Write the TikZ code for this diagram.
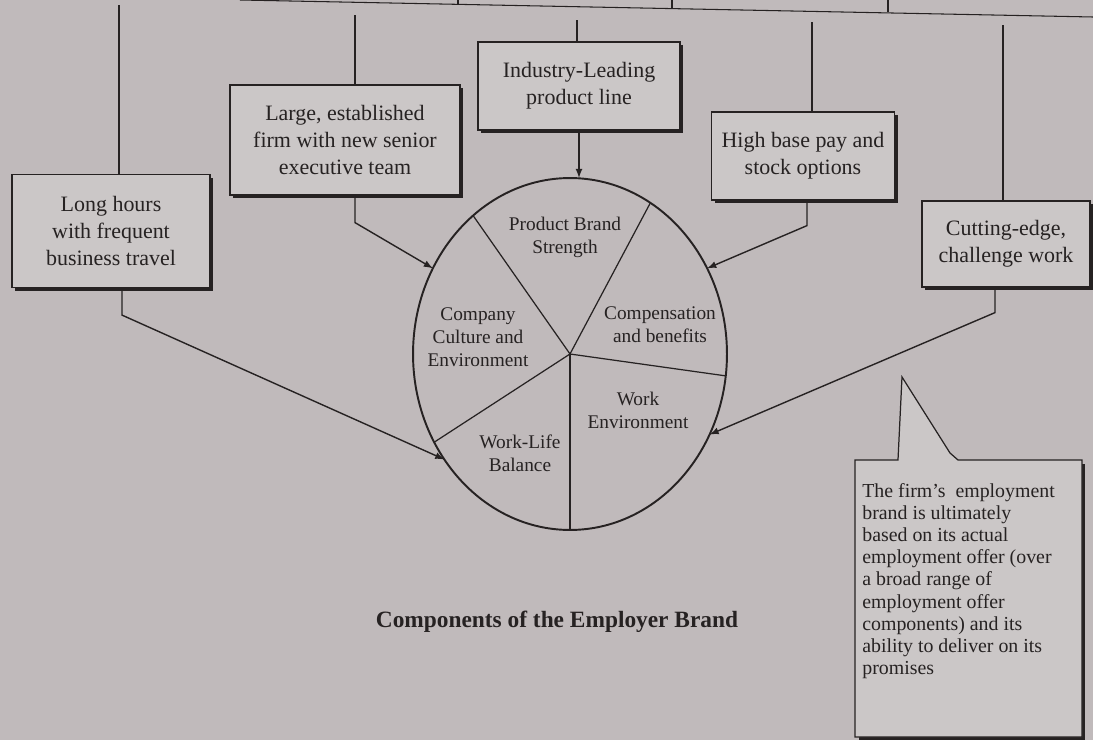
\documentclass[tikz,border=0pt]{standalone}
\usepackage{fontspec}
\setmainfont{Liberation Serif}
\usetikzlibrary{shapes.geometric,shadows}
\definecolor{paper}{RGB}{192,186,187}
\definecolor{boxfill}{RGB}{203,199,199}
\definecolor{ink}{RGB}{38,34,34}
\newcommand{\feed}[4]{%
  \draw[feedline] ([xshift=#2]#1.south) -- ++(0,#3) -- (pie.#4);
}

\begin{document}
\begin{tikzpicture}[x=0.02cm,y=-0.02cm,
  card/.style={draw=ink,line width=0.7pt,fill=boxfill,align=center,inner sep=2pt,
    font=\fontsize{12.5}{15.5}\selectfont,text=ink,
    drop shadow={shadow xshift=1.8pt,shadow yshift=-1.8pt,fill=ink,opacity=1}},
  feedline/.style={draw=ink,line width=0.8pt,-latex},
  spoke/.style={draw=ink,line width=0.7pt},
  slice/.style={align=center,text=ink,font=\fontsize{11}{13}\selectfont},
  rule/.style={draw=ink,line width=0.6pt}]

  % Fixed frame, same proportions as the page photo.
  \useasboundingbox (0,0) rectangle (1093,740);
  \fill[paper] (0,0) rectangle (1093,740);

  % ---------------- Remnant of the chart above ----------------
  \draw[rule] (240,0) -- (1093,17);
  \foreach \x/\y in {458/4,672/8,888/12}
    \draw[rule] (\x,0) -- (\x,\y);

  % ---------------- Feature boxes ----------------
  \node[card,minimum width=3.96cm,minimum height=2.26cm] (longhours) at (111,231)
    {Long hours\\with frequent\\business travel};
  \node[card,minimum width=4.6cm,minimum height=2.2cm] (large) at (345,140)
    {Large, established\\firm with new senior\\executive team};
  \node[card,minimum width=4.04cm,minimum height=1.76cm] (industry) at (579,86)
    {Industry-Leading\\product line};
  \node[card,minimum width=3.66cm,minimum height=1.76cm] (highbase) at (803,156)
    {High base pay and\\stock options};
  \node[card,minimum width=3.36cm,minimum height=1.72cm] (cutting) at (1006,244)
    {Cutting-edge,\\challenge work};

  % lines coming down from the chart above
  \foreach \n/\dx/\y in {longhours/0.16cm/5,large/0.2cm/15,industry/-0.04cm/20,
                         highbase/0.18cm/22,cutting/-0.06cm/25}
    \draw[rule] ([xshift=\dx]\n.north) -- ([xshift=\dx]\n.north |- 0,\y);

  % ---------------- Brand pie ----------------
  \node[ellipse,draw=ink,line width=1.1pt,minimum width=6.28cm,minimum height=7.04cm,
    inner sep=0pt,outer sep=0pt] (pie) at (570,354) {};
  \foreach \a in {125,62,352,270,213}
    \draw[spoke] (pie.center) -- (pie.\a);

  \node[slice] (brand)   at (565,237) {Product Brand\\Strength};
  \node[slice] (culture) at (478,337) {Company\\Culture and\\Environment};
  \node[slice] (comp)    at (660,325) {Compensation\\and benefits};
  \node[slice] (workenv) at (638,410) {Work\\Environment};
  \node[slice] (balance) at (520,453) {Work-Life\\Balance};

  % ---------------- Arrows into the pie ----------------
  \feed{longhours}{0.22cm}{27}{220}
  \feed{large}{0.2cm}{27}{148}
  \feed{highbase}{0.08cm}{25}{32}
  \feed{cutting}{-0.22cm}{25}{330}
  \draw[feedline] (industry.south) -- (industry.south |- pie.north);

  % ---------------- Callout ----------------
  \fill[ink] (859,464) rectangle (1085,740);
  \draw[draw=ink,line width=0.7pt,fill=boxfill]
    (855,460) -- (898,460) -- (902,377) -- (950,453) -- (958,460)
    -- (1082,460) -- (1082,737) -- (855,737) -- cycle;
  \node[anchor=north west,align=left,text=ink,inner sep=0pt,
    font=\fontsize{11.3}{12.6}\selectfont] (promise) at (862,483)
    {The firm's\ \ employment\\brand is ultimately\\based on its actual\\
     employment offer (over\\a broad range of\\employment offer\\
     components) and its\\ability to deliver on its\\promises};

  % ---------------- Caption ----------------
  \node[text=ink,font=\bfseries\fontsize{13.3}{15}\selectfont] (caption) at (557,622)
    {Components of the Employer Brand};

\end{tikzpicture}
\end{document}
